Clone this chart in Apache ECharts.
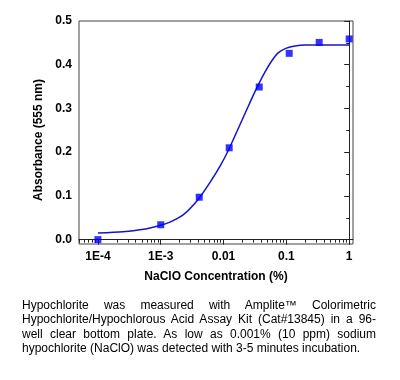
<!DOCTYPE html>
<html><head><meta charset="utf-8">
<script src="https://cdn.jsdelivr.net/npm/echarts@6/dist/echarts.min.js"></script>
<style>
html,body{margin:0;padding:0;background:#fff;}
#wrap{position:relative;width:400px;height:380px;}
#chart{width:400px;height:380px;}
#cap{position:absolute;left:22px;top:298px;width:354px;font-family:Arial,"Liberation Sans",sans-serif;font-size:12px;line-height:14.3px;color:#000;}
#cap .l{display:block;text-align:justify;text-align-last:justify;white-space:nowrap;}
#cap .l.last{text-align-last:left;}
</style>
</head><body>
<div id="wrap"><div id="chart"></div>
<div id="cap"><span class="l">Hypochlorite was measured with Amplite™ Colorimetric</span><span class="l">Hypochlorite/Hypochlorous Acid Assay Kit (Cat#13845) in a 96-</span><span class="l">well clear bottom plate. As low as 0.001% (10 ppm) sodium</span><span class="l last">hypochlorite (NaClO) was detected with 3-5 minutes incubation.</span></div>
</div>
<script>
// measured points
const concentrations = [1e-4, 1e-3, 0.0041, 0.0123, 0.037, 0.111, 0.333, 1];
const absorbance = [0.000, 0.034, 0.097, 0.210, 0.349, 0.426, 0.451, 0.459];
// fitted curve
const fitConc = [1e-4, 2.5e-4, 5e-4, 1e-3, 1.4e-3, 2.3e-3, 4e-3, 6.1e-3, 8.8e-3, 0.012, 0.0195, 0.028, 0.036, 0.046, 0.058, 0.074, 0.1, 0.137, 0.2, 1];
const fitAbs = [0.015, 0.018, 0.023, 0.033, 0.040, 0.057, 0.093, 0.131, 0.168, 0.205, 0.272, 0.322, 0.355, 0.384, 0.408, 0.427, 0.438, 0.443, 0.445, 0.445];
// axes
const xTickValues = [1e-4, 1e-3, 0.01, 0.1, 1];
const xTickLabels = ['1E-4', '1E-3', '0.01', '0.1', '1'];
const yTickValues = [0, 0.1, 0.2, 0.3, 0.4, 0.5];
const yTickLabels = ['0.0', '0.1', '0.2', '0.3', '0.4', '0.5'];
const yMinorValues = [0.05, 0.15, 0.25, 0.35, 0.45];
const xMin = 5e-5, xMax = 1.15, yMin = -0.01, yMax = 0.5;

const lg = v => Math.log10(v);
const xMinor = [];
for (let e = -5; e <= 0; e++) for (let k = 2; k <= 9; k++) {
  const v = k * Math.pow(10, e);
  if (v >= xMin && v <= xMax) xMinor.push(lg(v));
}
const xMajorLog = xTickValues.map(lg);
const fontFam = 'Arial, "Liberation Sans", sans-serif';
const axisCol = '#222';

const chart = echarts.init(document.getElementById('chart'), null, {renderer: 'canvas'});
chart.setOption({
  animation: false,
  backgroundColor: '#fff',
  grid: {left: 79, right: 47, top: 21, bottom: 136, show: true, borderColor: '#444', borderWidth: 1},
  xAxis: [{
    type: 'value', min: lg(xMin), max: lg(xMax),
    name: 'NaClO Concentration (%)', nameLocation: 'middle', nameGap: 27,
    nameTextStyle: {fontFamily: fontFam, fontSize: 12, fontWeight: 'bold', color: '#000'},
    axisLine: {show: true, lineStyle: {color: axisCol, width: 1}},
    axisTick: {show: true, length: 5, inside: false, customValues: xMajorLog, lineStyle: {color: axisCol}},
    axisLabel: {customValues: xMajorLog, margin: 7, fontFamily: fontFam, fontSize: 12, fontWeight: 'bold', color: '#000',
      formatter: v => { const i = xMajorLog.findIndex(t => Math.abs(t - v) < 1e-6); return i >= 0 ? xTickLabels[i] : ''; }},
    splitLine: {show: false}
  }, {
    type: 'value', min: lg(xMin), max: lg(xMax), position: 'bottom', gridIndex: 0,
    axisLine: {show: false},
    axisTick: {show: true, length: 3, customValues: xMinor, lineStyle: {color: axisCol}},
    axisLabel: {show: false}, splitLine: {show: false}
  }],
  yAxis: [{
    type: 'value', min: yMin, max: yMax,
    name: 'Absorbance (555 nm)', nameLocation: 'middle', nameGap: 31,
    nameTextStyle: {fontFamily: fontFam, fontSize: 12, fontWeight: 'bold', color: '#000', padding: [0, 15, 0, 0]},
    axisLine: {show: true, lineStyle: {color: axisCol, width: 1}},
    axisTick: {show: true, length: 5, customValues: yTickValues, lineStyle: {color: axisCol}},
    axisLabel: {customValues: yTickValues, margin: 7, fontFamily: fontFam, fontSize: 12, fontWeight: 'bold', color: '#000',
      formatter: v => { const i = yTickValues.findIndex(t => Math.abs(t - v) < 1e-6); return i >= 0 ? yTickLabels[i] : ''; }},
    splitLine: {show: false}
  }, {
    type: 'value', min: yMin, max: yMax, position: 'left',
    axisLine: {show: false},
    axisTick: {show: true, length: 3, customValues: yMinorValues, lineStyle: {color: axisCol}},
    axisLabel: {show: false}, splitLine: {show: false}
  }],
  series: [{
    type: 'line', xAxisIndex: 0, yAxisIndex: 0,
    data: fitConc.map((c, i) => [lg(c), fitAbs[i]]),
    smooth: 0.25, showSymbol: false, symbol: 'none',
    lineStyle: {color: '#1414cc', width: 1.5}, z: 2
  }, {
    type: 'scatter', xAxisIndex: 0, yAxisIndex: 0,
    data: concentrations.map((c, i) => [lg(c), absorbance[i]]),
    symbol: 'rect', symbolSize: 7,
    itemStyle: {color: '#0000ff'}, z: 3
  }]
});
</script>
</body></html>
